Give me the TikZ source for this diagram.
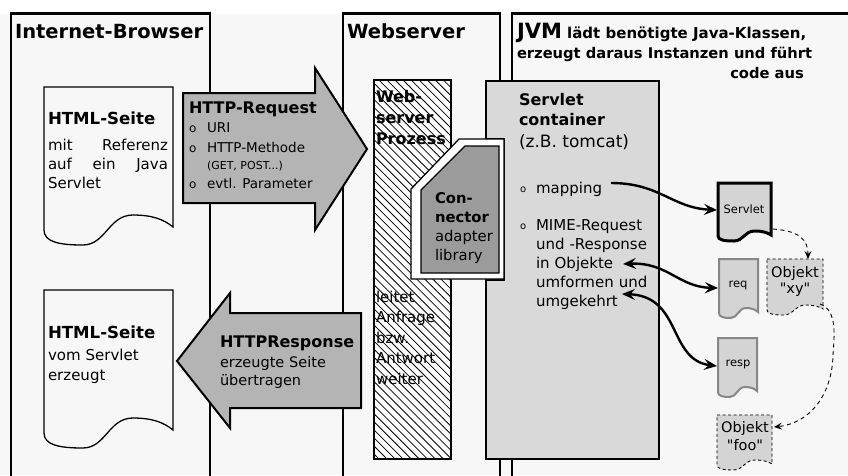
\documentclass[tikz,border=0pt]{standalone}
\usepackage{fontspec}
\setmainfont{DejaVu Sans}
\newfontfamily\plainq{DejaVu Sans}[Ligatures=ResetAll]
\usetikzlibrary{arrows.meta,patterns.meta}

\definecolor{bg}{RGB}{247,247,247}
\definecolor{arrowgray}{RGB}{180,180,180}
\definecolor{contgray}{RGB}{217,217,217}
\definecolor{conngray}{RGB}{155,155,155}
\definecolor{docgray}{RGB}{212,212,212}
\definecolor{edgegray}{RGB}{135,135,135}

\newcommand\fs[2]{\fontsize{#1}{#2}\selectfont}
\newcommand\sq{{\plainq\symbol{34}}}% straight double quote
% page with a wavy lower edge: style, left, top, width, side height, wave amplitude
\newcommand\wavedoc[6]{%
  \path[#1,shift={(#2,#3)}] (0,0) -- (#4,0) -- (#4,#5-0.2*#6)
    .. controls (0.93*#4,#5-0.7*#6) and (0.84*#4,#5-#6) .. (0.69*#4,#5-#6)
    .. controls (0.5*#4,#5-#6) and (0.48*#4,#5+#6) .. (0.3*#4,#5+#6)
    .. controls (0.12*#4,#5+#6) and (0,#5+0.8*#6) .. (0,#5) -- cycle;}

\tikzset{
  linktip/.tip={Stealth[length=13pt,width=11pt,inset=5pt]},
  dashtip/.tip={Stealth[length=8pt,width=7pt,inset=3pt]},
}

\begin{document}
\begin{tikzpicture}[x=1pt,y=-1pt,
  frame/.style={line width=2.4pt},
  bigarrow/.style={draw=black,fill=arrowgray,line width=2pt,line join=miter},
  htmldoc/.style={draw=black,fill=bg,line width=1.3pt},
  smalldoc/.style={fill=docgray,draw=edgegray,line width=2pt},
  servdoc/.style={fill=docgray,draw=black,line width=3pt},
  objdoc/.style={fill=docgray,draw=black,line width=0.9pt,dash pattern=on 3pt off 2.5pt},
  txt/.style={inner sep=0pt,outer sep=0pt,anchor=base west},
  blk/.style={txt,text width=#1,align=left},
  ctr/.style={inner sep=0pt,outer sep=0pt,anchor=base},
  link/.style={line width=2.4pt,draw=black},
  dlink/.style={line width=0.9pt,draw=black,dash pattern=on 4pt off 3.5pt},
]
\useasboundingbox (0,0) rectangle (848,475);
\fill[white] (0,0) rectangle (848,475);
\fill[bg] (0,13.5) rectangle (848,475);

% the three zones
\draw[frame] (11,476) -- (11,13.5) -- (210,13.5) -- (210,476);
\draw[frame] (343,476) -- (343,13.5) -- (500,13.5) -- (500,476);
\draw[frame] (512,476) -- (512,13.5) -- (849,13.5);

% HTML pages in the browser
\wavedoc{htmldoc}{44}{87}{129}{143}{15}
\wavedoc{htmldoc}{44}{290}{129}{143}{15}

% request and response arrows
\draw[bigarrow] (183,93) -- (315,93) -- (315,68) -- (367,149) -- (315,230) -- (315,203) -- (183,203) -- cycle;
\draw[bigarrow] (361,313) -- (230,313) -- (230,293) -- (177,361) -- (230,428) -- (230,408) -- (361,408) -- cycle;

% web server process (hatched)
\fill[white] (374,80) rectangle (451,459);
\fill[pattern={Lines[angle=-45,distance=5.7pt,line width=0.8pt]}] (374,80) rectangle (451,459);
\draw[line width=2pt] (374,80) rectangle (451,459);

% servlet container with the notch for the connector
\draw[fill=contgray,line width=2pt,line join=miter]
  (486,81) -- (659,81) -- (659,459) -- (486,459) -- (486,280) -- (504,280) -- (504,139) -- (486,139) -- cycle;

% connector adapter library
\draw[fill=white,line width=1.3pt,line join=miter]
  (411,189) -- (459,139) -- (504,139) -- (504,279) -- (411,279) -- cycle;
\draw[fill=conngray,line width=1.3pt,line join=miter]
  (421,190) -- (465,146) -- (499,146) -- (499,273) -- (421,273) -- cycle;

% pages inside the JVM
\wavedoc{servdoc}{718}{183}{53}{53}{5}
\wavedoc{smalldoc}{719}{259}{39}{54}{5}
\wavedoc{smalldoc}{718}{338}{39}{54}{5}
\wavedoc{objdoc}{767}{259}{56}{51}{5}
\wavedoc{objdoc}{717}{415}{55}{50}{5}

% headings
\node[txt,font=\bfseries\fs{19.5}{20}] (tBrowser) at (15,38) {Internet-Browser};
\node[txt,font=\bfseries\fs{19.5}{20}] (tWeb) at (347,38) {Webserver};
\node[txt,font=\bfseries\fs{15}{18}] (tJvm) at (517,38) {{\fs{21}{21}JVM} lädt benötigte Java-Klassen,};
\node[txt,font=\bfseries\fs{14.7}{18}] (tJvm2) at (517,58) {erzeugt daraus Instanzen und führt};
\node[inner sep=0pt,anchor=base east,font=\bfseries\fs{14.7}{18}] (tJvm3) at (804,78) {code aus};

% browser pages
\node[txt,font=\bfseries\fs{16.6}{20}] (h1) at (48,124) {HTML-Seite};
\node[blk=120pt,font=\fs{15}{19}] (h1body) at (48,150) {mit\hfill Referenz\\auf\hfill ein\hfill Java\\Servlet};
\node[txt,font=\bfseries\fs{16.6}{20}] (h2) at (48,338) {HTML-Seite};
\node[blk=120pt,font=\fs{15}{20}] (h2body) at (48,360) {vom Servlet\\erzeugt};

% request arrow text
\node[txt,font=\bfseries\fs{16}{20}] (reqT) at (189,113) {HTTP-Request};
\node[txt,font=\fs{12}{12}] (bu1) at (189,132) {o};
\node[txt,font=\fs{13.5}{16}] (it1) at (207,132) {URI};
\node[txt,font=\fs{12}{12}] (bu2) at (189,152) {o};
\node[txt,font=\fs{13.5}{16}] (it2) at (207,152) {HTTP-Methode};
\node[txt,font=\fs{11}{12}] (it2b) at (207,169) {(GET, POST...)};
\node[txt,font=\fs{12}{12}] (bu3) at (189,188) {o};
\node[txt,font=\fs{13.5}{16}] (it3) at (207,188) {evtl. Parameter};

% response arrow text
\node[txt,font=\bfseries\fs{16}{20}] (respT) at (220,347) {HTTPResponse};
\node[blk=140pt,font=\fs{14.5}{18}] (respB) at (220,367) {erzeugte Seite\\übertragen};

% web server process text
\node[blk=75pt,font=\bfseries\fs{16}{21}] (wsp) at (376,102) {Web-\\server\\Prozess};
\node[blk=75pt,font=\fs{15}{20.5}] (wsl) at (376,302) {leitet\\Anfrage\\bzw.\\Antwort\\weiter};

% connector text
\node[blk=70pt,font=\bfseries\fs{14.8}{19}] (con) at (435,203) {Con-\\nector};
\node[blk=70pt,font=\fs{14.8}{19}] (adl) at (435,241) {adapter\\library};

% servlet container text
\node[blk=150pt,font=\bfseries\fs{16}{20}] (sc) at (519,105) {Servlet\\container};
\node[txt,font=\fs{17}{20}] (tc) at (519,147) {(z.B. tomcat)};
\node[txt,font=\fs{10}{10}] (o1) at (520,192) {o};
\node[txt,font=\fs{15}{19}] (map) at (536,193) {mapping};
\node[txt,font=\fs{10}{10}] (o2) at (520,229) {o};
\node[blk=130pt,font=\fs{15}{19.2}] (mime) at (536,230) {MIME-Request\\und -Response\\in Objekte\\umformen und\\umgekehrt};

% labels of the JVM pages
\node[ctr,font=\fs{11.5}{12}] (servletL) at (744,213) {Servlet};
\node[ctr,font=\fs{11.5}{12}] (reqL) at (738,287) {req};
\node[ctr,font=\fs{11.5}{12}] (respL) at (738,366) {resp};
\node[ctr,font=\fs{14.5}{15}] (xyL) at (795,277) {Objekt};
\node[ctr,font=\fs{14.5}{15}] (xyL2) at (795,293) {\sq xy\sq};
\node[ctr,font=\fs{14.5}{15}] (fooL) at (745,432) {Objekt};
\node[ctr,font=\fs{14.5}{15}] (fooL2) at (745,450) {\sq foo\sq};

% connector end points
\coordinate (mapOut) at (611,183);
\coordinate (servletW) at (717,210);
\coordinate (objIn) at (623,264);
\coordinate (reqW) at (718,288);
\coordinate (umfIn) at (622,294);
\coordinate (respW) at (717,366);
\coordinate (servletE) at (773,229);
\coordinate (xyN) at (808,259);
\coordinate (xyE) at (820,304);
\coordinate (xyR) at (833,355);
\coordinate (fooE) at (774,427);

% connectors
\draw[link,-linktip] (mapOut) .. controls (660,183) and (672,208) .. (servletW);
\draw[link,linktip-linktip] (objIn) .. controls (668,262) and (678,287) .. (reqW);
\draw[link,linktip-linktip] (umfIn) .. controls (682,296) and (668,360) .. (respW);
\draw[dlink,-dashtip] (servletE) .. controls (800,231) and (808,240) .. (xyN);
\draw[dlink,-dashtip] (xyE) .. controls (838,310) and (834,338) .. (xyR)
  .. controls (832,395) and (810,423) .. (fooE);
\end{tikzpicture}
\end{document}
